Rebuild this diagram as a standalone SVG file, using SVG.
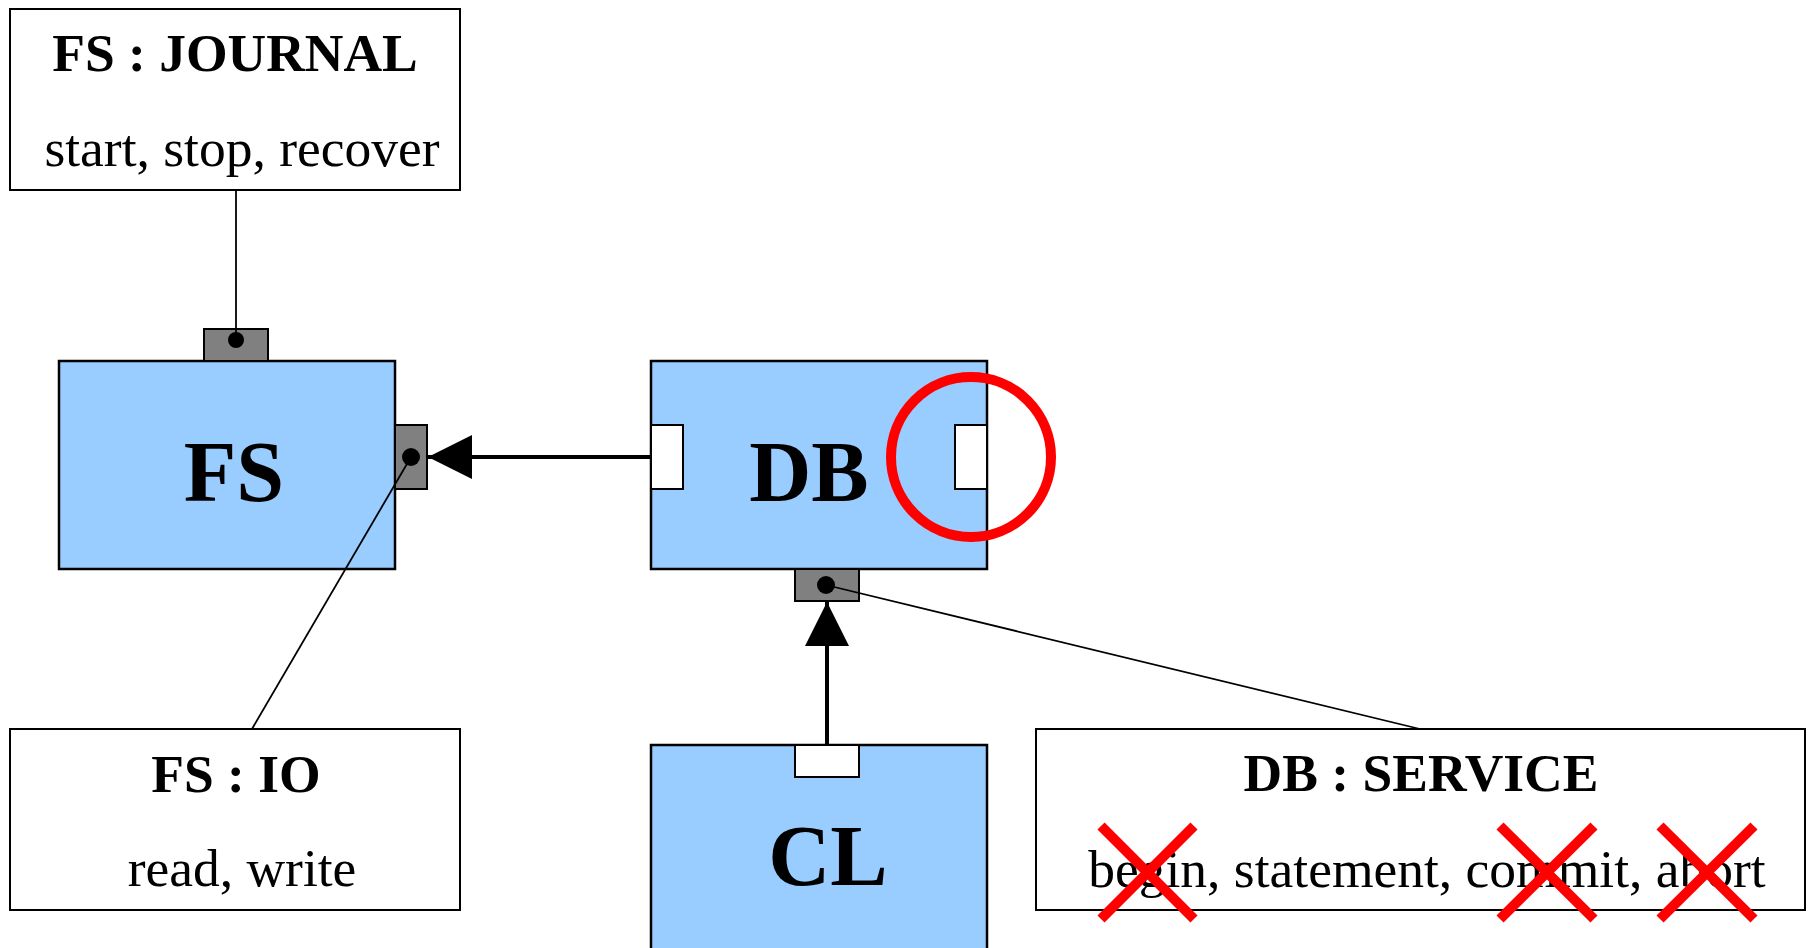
<svg xmlns="http://www.w3.org/2000/svg" width="1809" height="948" viewBox="0 0 1809 948">
<style>
.note{fill:#fff;stroke:#000;stroke-width:2}
.comp{fill:#99ccff;stroke:#000;stroke-width:2.5}
.port{fill:#808080;stroke:#000;stroke-width:2}
.wport{fill:#fff;stroke:#000;stroke-width:2}
.dot{fill:#000}
.t{font-family:"Liberation Serif","Times New Roman",serif;fill:#000;text-anchor:middle}
.tb{font-weight:bold;font-size:53.5px}
.tr{font-size:53.5px}
.big{font-weight:bold;font-size:86px}
.thin{stroke:#000;stroke-width:1.8;fill:none}
.thick{stroke:#000;stroke-width:4;fill:none}
.red{stroke:#ff0000;fill:none;stroke-width:10}
</style>
<defs>
<marker id="ah" viewBox="0 0 44 44" refX="44" refY="22" markerWidth="44" markerHeight="44" markerUnits="userSpaceOnUse" orient="auto">
<path d="M0,0 L44,22 L0,44 z" fill="#000"/>
</marker>
</defs>
<rect width="1809" height="948" fill="#fff"/>
<g id="fs-journal">
<rect class="note" x="10" y="9" width="450" height="181"/>
<text class="t tb" x="235" y="71">FS : JOURNAL</text>
<text class="t tr" x="242" y="166">start, stop, recover</text>
</g>
<g id="fs-io">
<rect class="note" x="10" y="729" width="450" height="181"/>
<text class="t tb" x="236" y="792">FS : IO</text>
<text class="t tr" x="242" y="886">read, write</text>
</g>
<g id="db-service">
<rect class="note" x="1036" y="729" width="769" height="181"/>
<text class="t tb" x="1421" y="791">DB : SERVICE</text>
<text class="t tr" x="1427" y="887">begin, statement, commit, abort</text>
</g>
<g id="fs">
<rect class="comp" x="59" y="361" width="336" height="208"/>
<rect class="port" x="204" y="329" width="64" height="32"/>
<circle class="dot" cx="236" cy="340" r="8"/>
<rect class="port" x="395" y="425" width="32" height="64"/>
<circle class="dot" cx="411" cy="457" r="9"/>
<text class="t big" x="234" y="501">FS</text>
</g>
<g id="db">
<rect class="comp" x="651" y="361" width="336" height="208"/>
<rect class="wport" x="651" y="425" width="32" height="64"/>
<rect class="wport" x="955" y="425" width="32" height="64"/>
<rect class="port" x="795" y="569" width="64" height="32"/>
<circle class="dot" cx="826" cy="585" r="9"/>
<text class="t big" x="809" y="501">DB</text>
</g>
<g id="cl">
<rect class="comp" x="651" y="745" width="336" height="215"/>
<rect class="wport" x="795" y="745" width="64" height="32"/>
<text class="t big" x="828" y="885">CL</text>
</g>
<g id="connectors">
<line class="thin" x1="236" y1="190" x2="236" y2="340"/>
<line class="thin" x1="411" y1="457" x2="252" y2="729"/>
<line class="thin" x1="826" y1="585" x2="1420" y2="729"/>
<line class="thick" x1="651" y1="457" x2="428" y2="457" marker-end="url(#ah)"/>
<line class="thick" x1="827" y1="745" x2="827" y2="602" marker-end="url(#ah)"/>
</g>
<g id="annotations">
<circle class="red" cx="971" cy="457" r="80"/>
<path class="red" d="M1101,826 L1194,919 M1194,826 L1101,919"/>
<path class="red" d="M1500,826 L1594,919 M1594,826 L1500,919"/>
<path class="red" d="M1660,826 L1754,919 M1754,826 L1660,919"/>
</g>
</svg>
